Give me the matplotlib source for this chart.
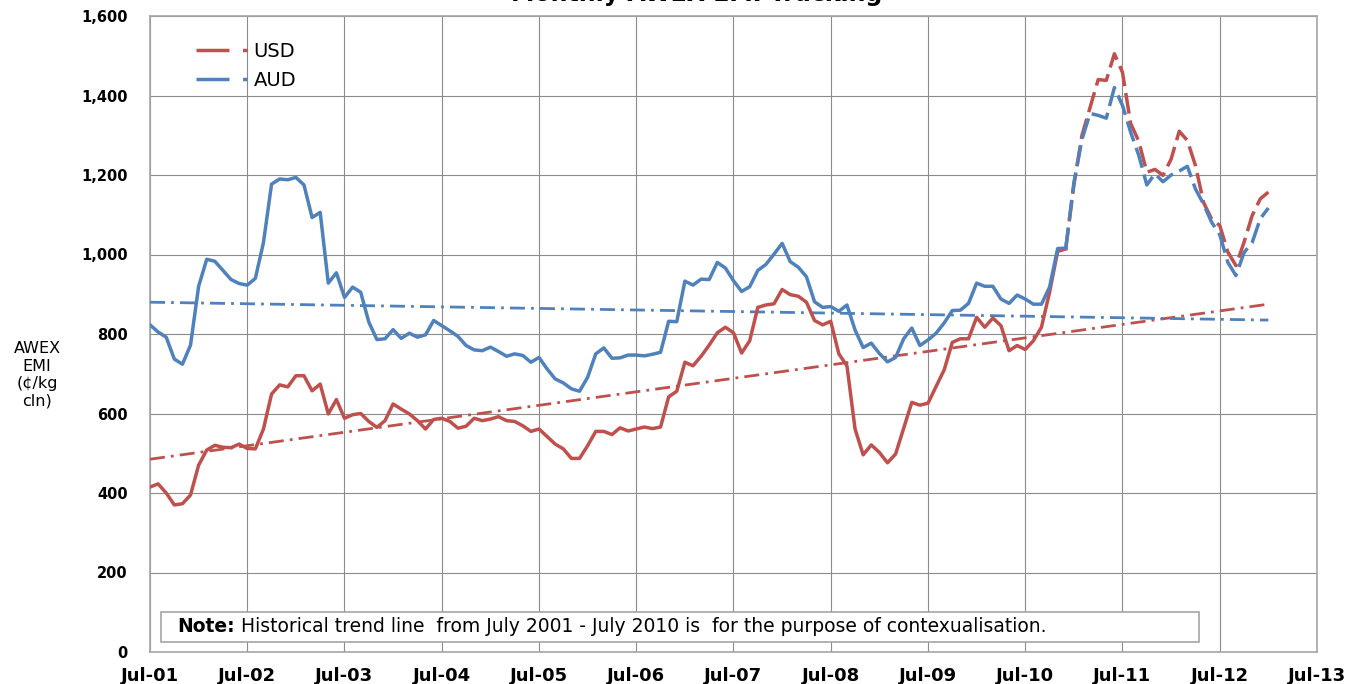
"""Monthly AWEX EMI tracking chart: USD and AUD series with historical trend lines.

Output
------
out.png
"""
import matplotlib

matplotlib.use("Agg")

import matplotlib.pyplot as plt
import numpy as np
from matplotlib.lines import Line2D
from matplotlib.patches import Rectangle
from matplotlib.ticker import FuncFormatter, MultipleLocator

# ── data (monthly, Jul-01 onwards) ───────────────────────────────────────────
USD = [
    415, 423, 400, 370, 373, 395, 470, 508, 520, 515, 514, 523,
    512, 511, 561, 649, 672, 667, 695, 695, 657, 674, 599, 635,
    588, 597, 600, 580, 565, 582, 624, 611, 599, 582, 561, 585,
    588, 580, 563, 568, 588, 582, 586, 592, 582, 580, 569, 555,
    561, 542, 523, 511, 487, 487, 519, 555, 555, 547, 564, 556,
    561, 566, 562, 566, 642, 656, 729, 720, 744, 772, 803, 817,
    803, 752, 783, 867, 873, 876, 912, 899, 895, 880, 834, 823,
    832, 750, 720, 561, 496, 521, 502, 476, 498, 563, 628, 621,
    626, 668, 710, 779, 788, 788, 842, 817, 840, 821, 758, 771,
    761, 783, 817, 905, 1008, 1014, 1175, 1300, 1370, 1440, 1438, 1505,
    1458, 1330, 1285, 1207, 1214, 1199, 1240, 1310, 1287, 1224, 1131, 1089,
    1073, 1006, 972, 1031, 1098, 1140, 1157,
]
AUD = [
    823, 805, 792, 737, 724, 772, 920, 988, 983, 960, 937, 927,
    923, 940, 1030, 1177, 1190, 1188, 1194, 1175, 1093, 1106, 928, 954,
    892, 918, 905, 830, 786, 788, 811, 789, 802, 792, 798, 834,
    821, 808, 794, 771, 760, 758, 767, 756, 744, 750, 746, 729,
    741, 712, 687, 677, 662, 656, 691, 750, 765, 739, 740, 747,
    747, 745, 749, 754, 832, 831, 933, 923, 938, 937, 980, 966,
    934, 907, 919, 960, 975, 1001, 1028, 982, 968, 944, 881, 867,
    869, 857, 873, 810, 766, 777, 751, 730, 741, 788, 815, 771,
    785, 802, 828, 859, 860, 877, 928, 920, 920, 888, 877, 898,
    888, 875, 875, 918, 1015, 1016, 1180, 1290, 1355, 1350, 1343, 1420,
    1375, 1308, 1250, 1175, 1203, 1183, 1200, 1210, 1222, 1165, 1127, 1081,
    1050, 980, 947, 1005, 1030, 1090, 1117,
]
SPLIT = 113  # last month drawn solid; dashed from here on

# trend lines (Jul-01 .. Jan-13)
TREND_MONTHS = [0, 138]
USD_TREND = [485, 875]
AUD_TREND = [880, 835]

X_LABELS = ["Jul-01", "Jul-02", "Jul-03", "Jul-04", "Jul-05", "Jul-06", "Jul-07",
            "Jul-08", "Jul-09", "Jul-10", "Jul-11", "Jul-12", "Jul-13"]

RED = "#C0504D"
BLUE = "#4F81BD"

plt.rcParams["font.family"] = ["DejaVu Sans"]

months = np.arange(len(USD))
usd = np.array(USD, dtype=float)
aud = np.array(AUD, dtype=float)

fig = plt.figure(figsize=(13.65, 6.84), dpi=100)
ax = fig.add_axes([150 / 1365, 32 / 684, 1167 / 1365, 636 / 684])

# ── series ───────────────────────────────────────────────────────────────────
lw = 2.5
dash = (0, (6, 2))
for vals, col in ((usd, RED), (aud, BLUE)):
    ax.plot(months[:SPLIT + 1], vals[:SPLIT + 1], color=col, lw=lw,
            solid_joinstyle="round", zorder=4)
    ax.plot(months[SPLIT:], vals[SPLIT:], color=col, lw=lw, ls=dash,
            dash_joinstyle="round", zorder=4)

trend_ls = (0, (5.4, 2.2, 1.0, 2.2))
ax.plot(TREND_MONTHS, USD_TREND, color=RED, lw=2.0, ls=trend_ls, zorder=3)
ax.plot(TREND_MONTHS, AUD_TREND, color=BLUE, lw=2.0, ls=trend_ls, zorder=3)

# ── axes ─────────────────────────────────────────────────────────────────────
ax.set_xlim(0, 12 * (len(X_LABELS) - 1))
ax.set_ylim(0, 1600)
ax.set_xticks(np.arange(0, 12 * len(X_LABELS), 12))
ax.set_xticklabels(X_LABELS)
ax.yaxis.set_major_locator(MultipleLocator(200))
ax.yaxis.set_major_formatter(FuncFormatter(lambda v, _: f"{v:,.0f}"))
ax.tick_params(axis="x", length=0, pad=11, labelsize=13)
ax.tick_params(axis="y", length=0, pad=16, labelsize=10.5)
for lab in ax.get_xticklabels() + ax.get_yticklabels():
    lab.set_fontweight("bold")

ax.grid(True, color="#8C8C8C", lw=0.8, zorder=0)
ax.set_axisbelow(True)
for sp in ax.spines.values():
    sp.set_color("#A6A6A6")
    sp.set_linewidth(1.2)

fig.text(37 / 1365, 1 - 375 / 684, "AWEX\nEMI\n(¢/kg\ncln)", ha="center",
         va="center", fontsize=11.5, linespacing=1.2)

# title sits mostly above the canvas, as in the reference
fig.text(697 / 1365, 1 - 1 / 684, "Monthly AWEX EMI Tracking", ha="center",
         va="baseline", fontsize=17, fontweight="bold")

# ── legend ───────────────────────────────────────────────────────────────────
leg_ls = (0, (9.5, 3.9, 3.3, 60))
handles = [Line2D([], [], color=RED, lw=lw, ls=leg_ls),
           Line2D([], [], color=BLUE, lw=lw, ls=leg_ls)]
ax.legend(handles, ["USD", "AUD"], loc="upper left",
          bbox_to_anchor=(46 / 1167, 1 - 26 / 636), frameon=False,
          fontsize=14, handlelength=2.6, handletextpad=0.35,
          borderpad=0, borderaxespad=0, labelspacing=0.5)

# ── note box ─────────────────────────────────────────────────────────────────
ax.add_patch(Rectangle((11 / 1167, 10 / 636), 1038 / 1167, 30 / 636,
                       transform=ax.transAxes, facecolor="white",
                       edgecolor="#A6A6A6", lw=1.2, zorder=5))
note = ax.text(27 / 1167, 25 / 636, "Note:", transform=ax.transAxes,
               fontsize=13.5, fontweight="bold", va="center", zorder=6)
ax.annotate(" Historical trend line  from July 2001 - July 2010 is  for the "
            "purpose of contexualisation.", xy=(1, 0), xycoords=note,
            va="bottom", fontsize=13.5, zorder=6)

fig.savefig("out.png", dpi=100)
